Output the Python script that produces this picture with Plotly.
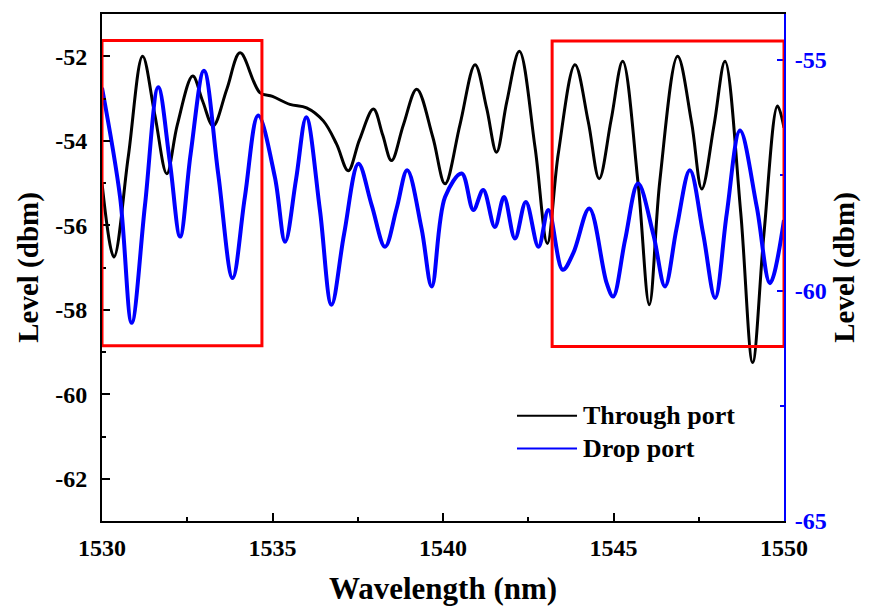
import plotly.graph_objects as go

# ---- data ----
through_name = "Through port"
through_x = [1530.0, 1530.35, 1530.77, 1531.19, 1531.55, 1531.90, 1532.21, 1532.66, 1532.95, 1533.26,
             1533.66, 1534.05, 1534.63, 1535.0, 1535.51, 1536.0, 1536.49, 1536.88, 1537.22, 1537.55,
             1537.96, 1538.23, 1538.49, 1538.84, 1539.23, 1539.70, 1540.06, 1540.50, 1540.94, 1541.28,
             1541.57, 1541.87, 1542.24, 1542.70, 1543.06, 1543.38, 1543.87, 1544.26, 1544.58, 1544.93,
             1545.27, 1545.72, 1546.05, 1546.36, 1546.88, 1547.29, 1547.59, 1547.95, 1548.27, 1548.73,
             1549.08, 1549.41, 1549.81, 1550.0]
through_y = [-55.0, -56.75, -54.38, -52.0, -53.39, -54.78, -53.62, -52.47, -53.06, -53.65,
             -52.78, -51.92, -52.86, -52.95, -53.14, -53.22, -53.53, -54.08, -54.71, -53.98,
             -53.25, -53.86, -54.47, -53.62, -52.78, -53.91, -55.02, -53.61, -52.20, -53.23,
             -54.27, -53.08, -51.88, -54.16, -56.43, -54.31, -52.20, -53.55, -54.90, -53.51,
             -52.12, -55.0, -57.88, -54.94, -52.0, -53.57, -55.14, -53.62, -52.12, -55.69,
             -59.25, -56.22, -53.18, -53.69]

drop_name = "Drop port"
drop_x = [1530.0, 1530.53, 1530.87, 1531.26, 1531.65, 1531.99, 1532.29, 1532.60, 1532.99, 1533.41,
          1533.83, 1534.19, 1534.58, 1535.07, 1535.37, 1535.69, 1535.99, 1536.39, 1536.73, 1537.10,
          1537.52, 1537.91, 1538.30, 1538.64, 1538.95, 1539.37, 1539.67, 1540.06, 1540.55, 1540.89,
          1541.18, 1541.52, 1541.79, 1542.11, 1542.43, 1542.80, 1543.09, 1543.51, 1543.82, 1544.29,
          1544.80, 1544.99, 1545.34, 1545.72, 1546.17, 1546.51, 1546.85, 1547.24, 1547.63, 1547.98,
          1548.32, 1548.71, 1549.20, 1549.59, 1550.0]
drop_y = [-55.6, -57.97, -60.70, -58.15, -55.59, -57.21, -58.83, -57.03, -55.23, -57.48,
          -59.73, -57.97, -56.20, -57.54, -58.94, -57.59, -56.24, -58.25, -60.31, -58.77,
          -57.25, -58.15, -59.05, -58.22, -57.39, -58.65, -59.91, -57.97, -57.46, -58.25,
          -57.82, -58.62, -57.97, -58.87, -58.08, -59.05, -58.25, -59.55, -59.19, -58.22,
          -59.84, -60.13, -58.90, -57.68, -58.79, -59.91, -58.65, -57.39, -58.77, -60.16,
          -58.34, -56.53, -58.18, -59.84, -58.47]

# highlighted regions (x range in nm, y range on the left axis)
box_x = [[1530.0, 1534.69], [1543.2, 1550.0]]
box_y = [[-58.85, -51.63], [-58.87, -51.64]]

x_ticks = [1530, 1535, 1540, 1545, 1550]
x_labels = ["1530", "1535", "1540", "1545", "1550"]
y_ticks = [-52, -54, -56, -58, -60, -62]
y_labels = ["-52", "-54", "-56", "-58", "-60", "-62"]
y2_ticks = [-55, -60, -65]
y2_labels = ["-55", "-60", "-65"]

FONT = "Liberation Serif"
BLUE = "#0000ff"

fig = go.Figure()
fig.add_trace(go.Scatter(x=through_x, y=through_y, mode="lines", name=through_name,
                         line=dict(color="black", width=3, shape="spline", smoothing=1.0),
                         showlegend=False))
fig.add_trace(go.Scatter(x=drop_x, y=drop_y, mode="lines", name=drop_name, yaxis="y2",
                         line=dict(color=BLUE, width=4, shape="spline", smoothing=1.0),
                         showlegend=False))

for (x0, x1), (y0, y1) in zip(box_x, box_y):
    fig.add_shape(type="rect", xref="x", yref="y", x0=x0, x1=x1, y0=y0, y1=y1,
                  line=dict(color="#ff0000", width=3), fillcolor="rgba(0,0,0,0)")

# manual legend
legend_items = [(through_name, "black", 0.2078), (drop_name, BLUE, 0.1431)]
for name, col, yy in legend_items:
    fig.add_shape(type="line", xref="paper", yref="paper", x0=0.6085, x1=0.6965, y0=yy, y1=yy,
                  line=dict(color=col, width=2))
    fig.add_annotation(xref="paper", yref="paper", x=0.703, y=yy, text=name, showarrow=False,
                       xanchor="left", yanchor="middle",
                       font=dict(family=FONT, size=26, color="black", weight="bold"))

tickfont = dict(family=FONT, size=24, color="black", weight="bold")
fig.update_layout(
    width=871, height=612,
    margin=dict(l=102, r=87, t=12, b=90),
    paper_bgcolor="white", plot_bgcolor="white",
    xaxis=dict(range=[1530, 1550], tickvals=x_ticks, ticktext=x_labels, ticks="inside", ticklen=8, tickwidth=2,
               tickcolor="black", showline=True, linecolor="black", linewidth=2, mirror=True,
               showgrid=False, zeroline=False, tickfont=tickfont, ticklabelstandoff=4,
               minor=dict(ticks="inside", dtick=2.5, ticklen=4, tickwidth=2, tickcolor="black", showgrid=False),
               title=dict(text="Wavelength (nm)", font=dict(family=FONT, size=31, color="black", weight="bold"),
                          standoff=18)),
    yaxis=dict(range=[-63, -51], tickvals=y_ticks, ticktext=y_labels, ticks="inside", ticklen=8, tickwidth=2,
               tickcolor="black", showline=True, linecolor="black", linewidth=2,
               showgrid=False, zeroline=False, tickfont=tickfont, ticklabelstandoff=8,
               minor=dict(ticks="inside", dtick=1, ticklen=4, tickwidth=2, tickcolor="black", showgrid=False),
               title=dict(text="Level (dbm)", font=dict(family=FONT, size=29, color="black", weight="bold"),
                          standoff=8)),
    yaxis2=dict(range=[-65, -54], tickvals=y2_ticks, ticktext=y2_labels, overlaying="y", side="right", anchor="x",
                ticks="inside", ticklen=7, tickwidth=2, tickcolor=BLUE, showline=True,
                linecolor=BLUE, linewidth=2, showgrid=False, zeroline=False, ticklabelstandoff=4,
                tickfont=dict(family=FONT, size=24, color=BLUE, weight="bold"),
                minor=dict(ticks="inside", dtick=2.5, ticklen=4, tickwidth=2, tickcolor=BLUE, showgrid=False),
                title=dict(text="Level (dbm)", font=dict(family=FONT, size=29, color="black", weight="bold"),
                           standoff=8)),
)

fig.write_html("out.html")
